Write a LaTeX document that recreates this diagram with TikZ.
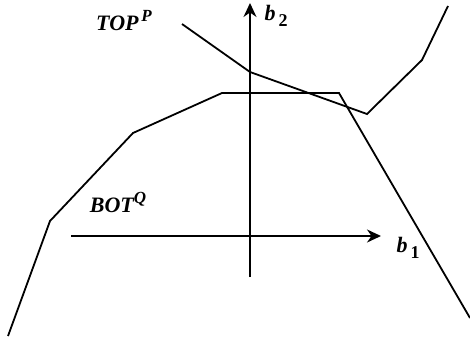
\documentclass[tikz,border=0pt]{standalone}
\usepackage{fontspec}
\setmainfont{Liberation Serif}
\usetikzlibrary{arrows.meta,positioning}

\begin{document}
\begin{tikzpicture}[
    x=0.5pt,y=-0.5pt,
    curve/.style={draw,line width=0.9pt,line join=miter},
    axis/.style={-{Stealth[length=7pt,width=6.5pt]},line width=0.9pt},
    lbl/.style={font=\fontsize{11}{13}\selectfont\bfseries\itshape,inner sep=0pt}
  ]
    \useasboundingbox (0,0) rectangle (470,338);
    % axes
    \coordinate (xs) at (71,236);
    \coordinate (xe) at (381,236);
    \coordinate (ys) at (250,277);
    \coordinate (ye) at (250,3);
    \draw[axis] (xs) -- (xe);
    \draw[axis] (ys) -- (ye);
    \node[lbl] (b1) at (408,248) {b\raisebox{-3pt}{\fontsize{9}{10}\selectfont\upshape\,1}};
    \node[lbl] (b2) at (276,16) {b\raisebox{-3pt}{\fontsize{9}{10}\selectfont\upshape\,2}};
    % bottom polygon
    \coordinate (q1) at (8,336);
    \coordinate (q2) at (50,221);
    \coordinate (q3) at (133,133);
    \coordinate (q4) at (222,93);
    \coordinate (q5) at (339,93);
    \coordinate (q6) at (470,318);
    \draw[curve] (q1) -- (q2) -- (q3) -- (q4) -- (q5) -- (q6);
    % top polygon
    \coordinate (p1) at (182,24);
    \coordinate (p2) at (250,72);
    \coordinate (p3) at (367,114);
    \coordinate (p4) at (422,60);
    \coordinate (p5) at (448,6);
    \draw[curve] (p1) -- (p2) -- (p3) -- (p4) -- (p5);
    \node[lbl] (top) at (124,21) {TOP\raisebox{4.5pt}{\fontsize{8.5}{10}\selectfont\,P}};
    \node[lbl] (bot) at (118,202) {BOT\raisebox{4.5pt}{\fontsize{8.5}{10}\selectfont Q}};
  \end{tikzpicture}
\end{document}
